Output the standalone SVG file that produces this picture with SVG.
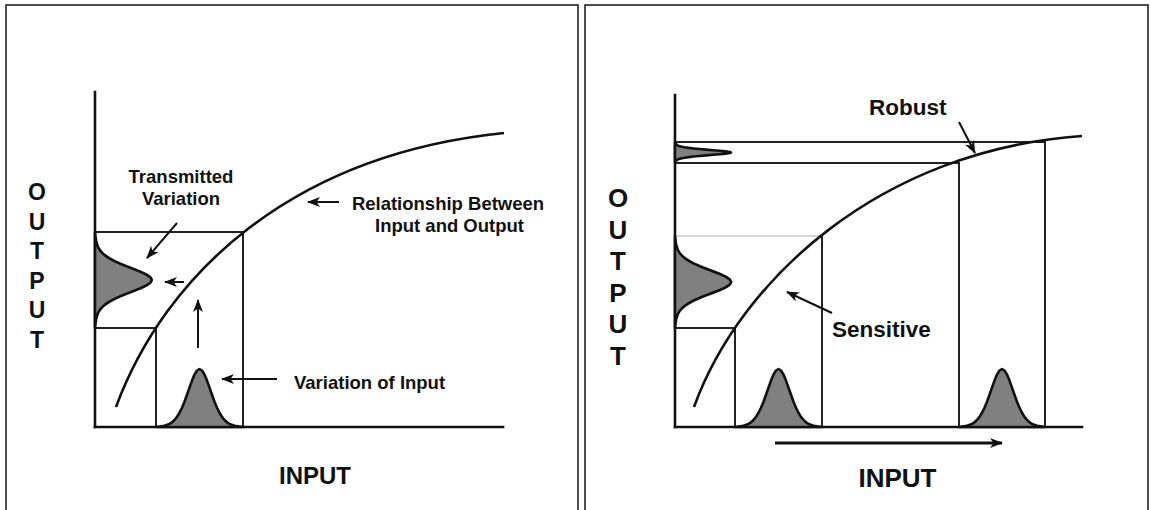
<svg xmlns="http://www.w3.org/2000/svg" width="1151" height="510" viewBox="0 0 1151 510">
<style>
.frame{fill:none;stroke:#222;stroke-width:1.6}
.axis{fill:none;stroke:#111;stroke-width:2.6;stroke-linecap:square}
.ln{fill:none;stroke:#222;stroke-width:2}
.lt{fill:none;stroke:#c8c8c8;stroke-width:1.5}
.crv{fill:none;stroke:#111;stroke-width:2.6}
.bell{fill:#808080;stroke:#111;stroke-width:2.6;stroke-linejoin:round}
.arr{fill:none;stroke:#111;stroke-width:2;marker-end:url(#ah)}
.t{font-family:"Liberation Sans",Arial,sans-serif;font-weight:bold;fill:#111}
.s18{font-size:18.5px}
.s22{font-size:22.5px}
</style>
<defs>
<marker id="ah" markerWidth="14" markerHeight="11" refX="12" refY="5.5" orient="auto" markerUnits="userSpaceOnUse">
<path d="M0,0.5 L13,5.5 L0,10.5 L3.5,5.5 Z" fill="#111"/>
</marker>
<path id="bell" d="M-43.5,0 L-40,-0.4 L-35,-1.3 L-30,-3.1 L-27.5,-4.7 L-25,-7 L-22.5,-10.1 L-20,-14.2 L-17.5,-19.3 L-15,-25.3 L-12.5,-32.2 L-10,-39.4 L-7.5,-46.4 L-5,-52.4 L-2.5,-56.5 L0,-58 L2.5,-56.5 L5,-52.4 L7.5,-46.4 L10,-39.4 L12.5,-32.2 L15,-25.3 L17.5,-19.3 L20,-14.2 L22.5,-10.1 L25,-7 L27.5,-4.7 L30,-3.1 L35,-1.3 L40,-0.4 L43.5,0 Z"/>
</defs>

<g id="frames">
<rect class="frame" x="6" y="5" width="572" height="520"/>
<rect class="frame" x="585" y="5" width="563" height="520"/>
</g>

<g id="left-panel">
<g id="left-axes">
<line class="axis" x1="95" y1="92" x2="95" y2="427"/>
<line class="axis" x1="95" y1="427" x2="503" y2="427"/>
</g>
<g id="left-box">
<polyline class="ln" points="95,232 243,232 243,427"/>
<polyline class="ln" points="95,328 156,328 156,427"/>
</g>
<g id="left-input-dist">
<use href="#bell" class="bell" transform="translate(199.5,427)"/>
</g>
<g id="left-output-dist">
<use href="#bell" class="bell" transform="translate(95,280) rotate(90) scale(1.1,0.98)"/>
</g>
<path id="left-curve" class="crv" d="M116,407 C165,275 290,155 504,133"/>
<g id="left-labels">
<text class="t s18" x="181" y="183" text-anchor="middle">Transmitted</text>
<text class="t s18" x="181" y="205" text-anchor="middle">Variation</text>
<text class="t s18" x="448" y="210" text-anchor="middle">Relationship Between</text>
<text class="t s18" x="449.5" y="232" text-anchor="middle">Input and Output</text>
<text class="t s18" x="294" y="389">Variation of Input</text>
<text class="t" x="315" y="484" text-anchor="middle" font-size="24">INPUT</text>
<text class="t" x="37" text-anchor="middle" font-size="23"><tspan x="37" y="200">O</tspan><tspan x="37" y="229.5">U</tspan><tspan x="37" y="259">T</tspan><tspan x="37" y="288.5">P</tspan><tspan x="37" y="318">U</tspan><tspan x="37" y="347.5">T</tspan></text>
</g>
</g>

<g id="right-panel">
<g id="right-axes">
<line class="axis" x1="675" y1="95" x2="675" y2="427"/>
<line class="axis" x1="675" y1="427" x2="1082" y2="427"/>
</g>
<g id="right-lines">
<polyline class="ln" points="675,142 1045,142 1045,427"/>
<polyline class="ln" points="675,163 959,163 959,427"/>
<line class="lt" x1="675" y1="236" x2="822" y2="236"/>
<line class="ln" x1="822" y1="236" x2="822" y2="427"/>
<polyline class="ln" points="675,328 735,328 735,427"/>
</g>
<g id="right-input-dists">
<use href="#bell" class="bell" transform="translate(778.5,427)"/>
<use href="#bell" class="bell" transform="translate(1002,427)"/>
</g>
<g id="right-output-dists">
<use href="#bell" class="bell" transform="translate(675,282) rotate(90) scale(1.06,0.97)"/>
<path class="bell" d="M675,142.5 L676.3,144.45 L678,145.65 L681.8,146.75 L684.8,147.33 L688.7,147.9 L693.6,148.48 L699.4,149.05 L706.1,149.63 L713.1,150.2 L719.8,150.78 L725.6,151.35 L729.6,151.93 L731,152.5 L729.6,153.08 L725.6,153.65 L719.8,154.23 L713.1,154.8 L706.1,155.38 L699.4,155.95 L693.6,156.53 L688.7,157.1 L684.8,157.68 L681.8,158.25 L678,159.35 L676.3,160.55 L675,162.5 Z"/>
</g>
<path id="right-curve" class="crv" d="M694,407 C740,280 880,150 1082,136"/>
<g id="right-labels">
<text class="t s22" x="869" y="115">Robust</text>
<text class="t s22" x="832" y="337">Sensitive</text>
<text class="t" x="897.5" y="487" text-anchor="middle" font-size="26">INPUT</text>
<text class="t" x="618" text-anchor="middle" font-size="26"><tspan x="618" y="207">O</tspan><tspan x="618" y="238.6">U</tspan><tspan x="618" y="270">T</tspan><tspan x="618" y="301.8">P</tspan><tspan x="618" y="333.4">U</tspan><tspan x="618" y="365">T</tspan></text>
</g>
</g>

<g id="connectors">
<line class="arr" x1="177" y1="223" x2="147" y2="258"/>
<line class="arr" x1="184" y1="282" x2="165" y2="282"/>
<line class="arr" x1="198" y1="348" x2="198" y2="300"/>
<line class="arr" x1="339" y1="202" x2="308" y2="202"/>
<line class="arr" x1="277" y1="379" x2="222" y2="379"/>
<line class="arr" x1="959" y1="122" x2="975" y2="153"/>
<line class="arr" x1="832" y1="313" x2="787" y2="292"/>
<line class="arr" x1="775" y1="443" x2="1002" y2="443" style="stroke-width:3"/>
</g>
</svg>
